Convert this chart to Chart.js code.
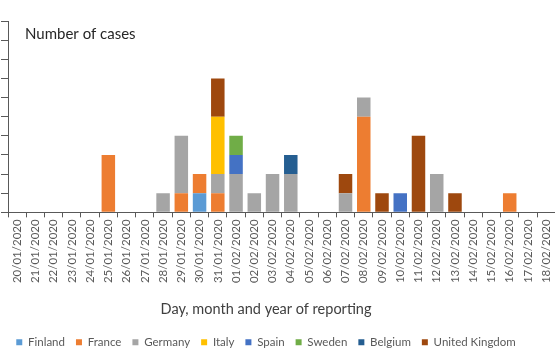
<!DOCTYPE html>
<html>
<head>
<meta charset="utf-8">
<script src="https://cdn.jsdelivr.net/npm/chart.js@4"></script>
<style>
  html, body { margin: 0; padding: 0; background: #fff; overflow: hidden; }
  #wrap { position: relative; width: 555px; height: 358px; overflow: hidden; }
  #chart { position: absolute; left: -30px; top: 0; }
</style>
</head>
<body>
<div id="wrap"><canvas id="chart" width="592" height="358"></canvas></div>
<script>
// dagen van rapportage
var dates = ['20/01/2020','21/01/2020','22/01/2020','23/01/2020','24/01/2020','25/01/2020',
  '26/01/2020','27/01/2020','28/01/2020','29/01/2020','30/01/2020','31/01/2020',
  '01/02/2020','02/02/2020','03/02/2020','04/02/2020','05/02/2020','06/02/2020',
  '07/02/2020','08/02/2020','09/02/2020','10/02/2020','11/02/2020','12/02/2020',
  '13/02/2020','14/02/2020','15/02/2020','16/02/2020','17/02/2020','18/02/2020'];

var finland = [0,0,0,0,0,0,0,0,0,0,1,0,0,0,0,0,0,0,0,0,0,0,0,0,0,0,0,0,0,0];
var france  = [0,0,0,0,0,3,0,0,0,1,1,1,0,0,0,0,0,0,0,5,0,0,0,0,0,0,0,1,0,0];
var germany = [0,0,0,0,0,0,0,0,1,3,0,1,2,1,2,2,0,0,1,1,0,0,0,2,0,0,0,0,0,0];
var italy   = [0,0,0,0,0,0,0,0,0,0,0,3,0,0,0,0,0,0,0,0,0,0,0,0,0,0,0,0,0,0];
var spain   = [0,0,0,0,0,0,0,0,0,0,0,0,1,0,0,0,0,0,0,0,0,1,0,0,0,0,0,0,0,0];
var sweden  = [0,0,0,0,0,0,0,0,0,0,0,0,1,0,0,0,0,0,0,0,0,0,0,0,0,0,0,0,0,0];
var belgium = [0,0,0,0,0,0,0,0,0,0,0,0,0,0,0,1,0,0,0,0,0,0,0,0,0,0,0,0,0,0];
var uk      = [0,0,0,0,0,0,0,0,0,0,0,2,0,0,0,0,0,0,1,0,1,0,4,0,1,0,0,0,0,0];

var yTicks = [0,1,2,3,4,5,6,7,8,9,10];

function serie(label, data, color){
  return {label: label, data: data, backgroundColor: color, borderWidth: 0,
    barPercentage: 0.74, categoryPercentage: 1};
}

// tekst "Number of cases" in de grafiek
var yTitle = {
  id: 'yTitle',
  afterDraw(chart){
    var ctx = chart.ctx;
    ctx.save();
    ctx.font = '15px Lato';
    ctx.fillStyle = '#262626';
    ctx.textBaseline = 'middle';
    ctx.fillText('Number of cases', chart.chartArea.left + 17, chart.chartArea.top + 13);
    ctx.restore();
  }
};

new Chart(document.getElementById('chart'), {
  type: 'bar',
  data: {
    labels: dates,
    datasets: [
      serie('Finland', finland, '#5B9BD5'),
      serie('France', france, '#ED7D31'),
      serie('Germany', germany, '#A5A5A5'),
      serie('Italy', italy, '#FFC000'),
      serie('Spain', spain, '#4472C4'),
      serie('Sweden', sweden, '#70AD47'),
      serie('Belgium', belgium, '#255E91'),
      serie('United Kingdom', uk, '#9E480E')
    ]
  },
  options: {
    responsive: false,
    animation: false,
    devicePixelRatio: 1,
    layout: {padding: {top: 21, right: 0, bottom: 0, left: 0}},
    plugins: {
      tooltip: {enabled: false},
      title: {
        display: true,
        position: 'bottom',
        weight: 500,
        text: 'Day, month and year of reporting',
        color: '#404040',
        font: {family: 'Lato', size: 14.5, weight: 'normal'},
        padding: {top: 16, bottom: 7}
      },
      legend: {
        position: 'bottom',
        labels: {
          boxWidth: 6, boxHeight: 6, padding: 11,
          color: '#595959',
          font: {family: 'Lato', size: 11.5}
        }
      }
    },
    scales: {
      x: {
        stacked: true,
        offset: true,
        grid: {display: true, drawOnChartArea: false, offset: true, tickLength: 5, color: '#595959'},
        border: {color: '#595959', width: 1},
        ticks: {
          autoSkip: false, maxRotation: 90, minRotation: 90, padding: 2,
          color: '#595959', font: {family: 'Lato', size: 11.5}
        }
      },
      y: {
        stacked: true,
        min: yTicks[0],
        max: yTicks[yTicks.length - 1],
        afterBuildTicks(scale){ scale.ticks = yTicks.map(v => ({value: v})); },
        afterFit(scale){ scale.width = 38; },
        grid: {display: true, drawOnChartArea: false, tickLength: 7, color: '#595959'},
        border: {color: '#595959', width: 1},
        ticks: {display: false}
      }
    }
  },
  plugins: [yTitle]
});
</script>
</body>
</html>
